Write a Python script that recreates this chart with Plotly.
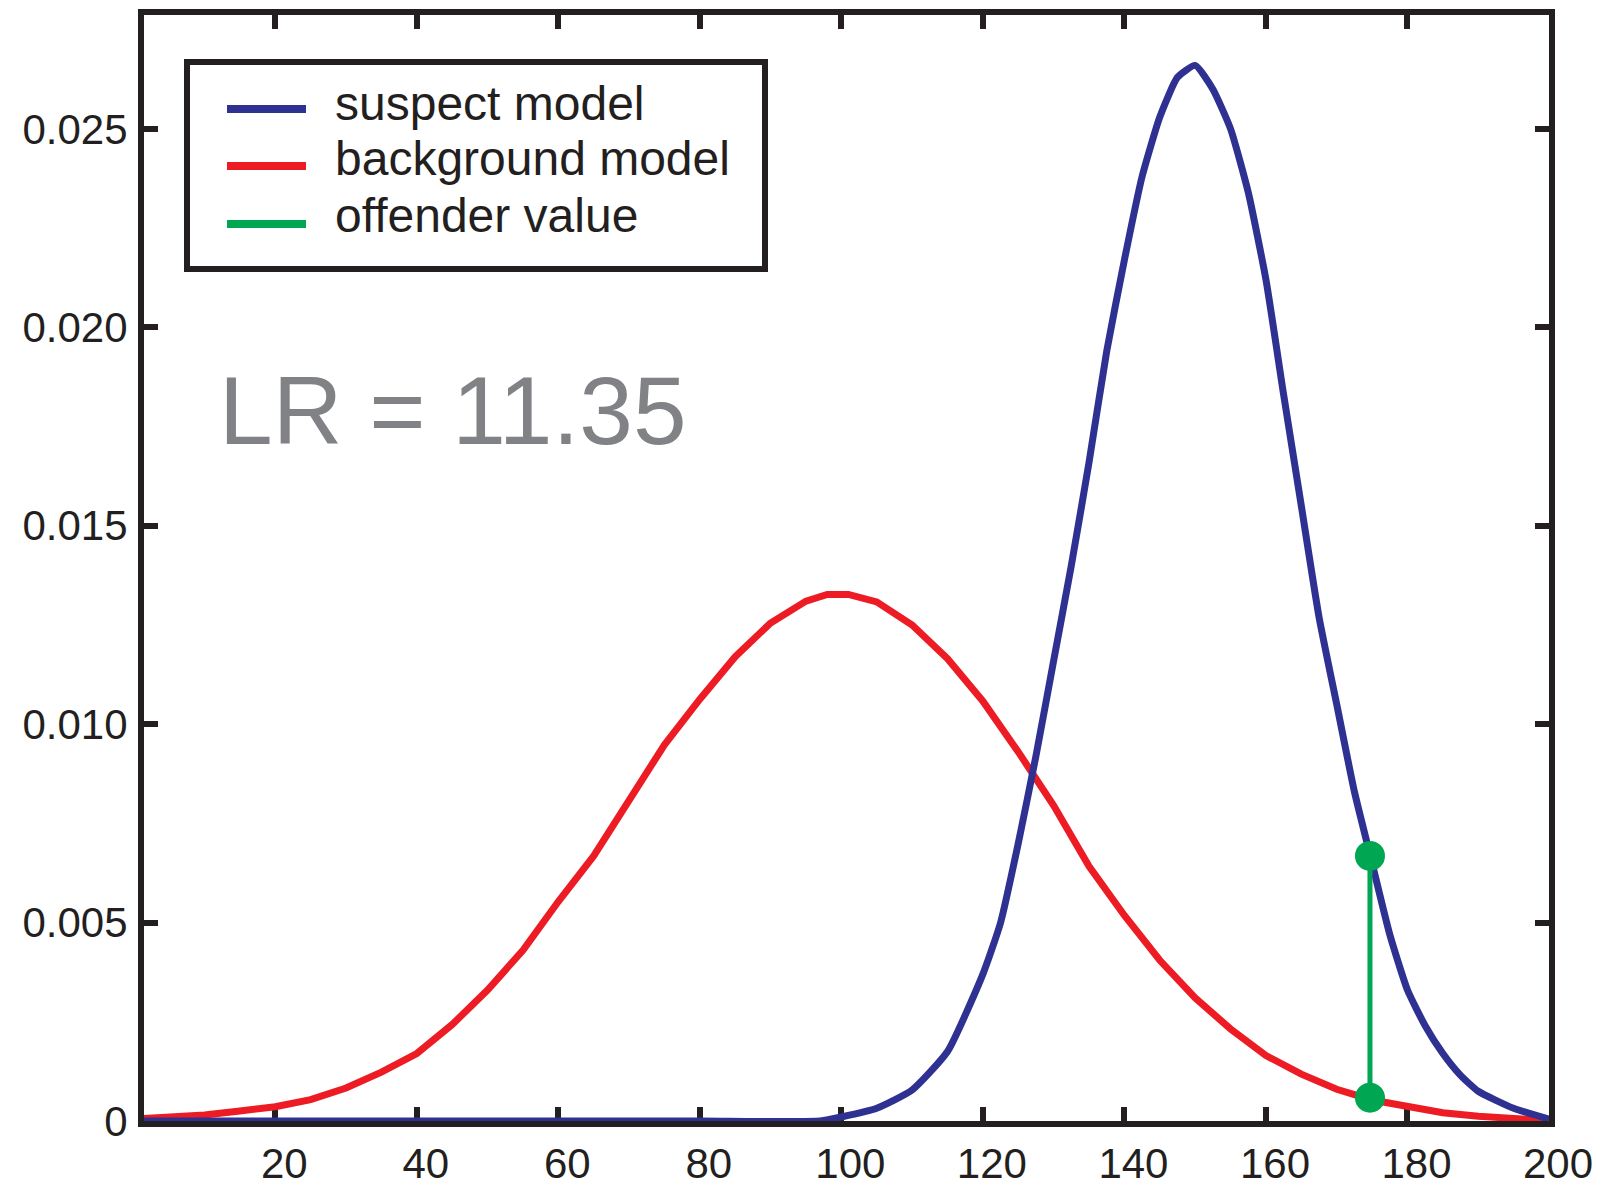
import plotly.graph_objects as go

# ---- data ----
bg_x = [1, 5, 10, 15, 20, 25, 30, 35, 40, 45, 50, 55, 60, 65, 70, 75, 80, 85, 90, 95,
        98, 101, 105, 110, 115, 120, 125, 130, 135, 140, 145, 150, 155, 160, 165, 170,
        175, 180, 185, 190, 195, 200]
bg_y = [0.00006, 0.00009, 0.00015, 0.00025, 0.00036, 0.00054, 0.00083, 0.00123, 0.00170,
        0.00243, 0.00330, 0.00430, 0.00553, 0.00668, 0.00812, 0.00948, 0.01063, 0.01170,
        0.01255, 0.01310, 0.01327, 0.01327, 0.01308, 0.01250, 0.01165, 0.01058, 0.00930,
        0.00795, 0.00642, 0.00518, 0.00405, 0.00310, 0.00232, 0.00165, 0.00118, 0.00080,
        0.00053, 0.00035, 0.00021, 0.00012, 0.00006, 0.00001]

sus_x = [1, 20, 40, 60, 80, 97, 100, 105, 110, 115, 120, 122.5, 125, 127.5, 130, 132.5,
         135, 137.5, 140, 142.5, 145, 147.5, 150, 152.5, 155, 157.5, 160, 162.5, 165,
         167.5, 170, 172.5, 175, 177.5, 180, 182.5, 185, 187.5, 190, 195, 200]
sus_y = [0.0, 0.0, 0.0, 0.0, 0.0, 0.0, 0.00010, 0.00032, 0.00078, 0.00175, 0.00370,
         0.00500, 0.00700, 0.00920, 0.01160, 0.01400, 0.01660, 0.01940, 0.02170, 0.02380,
         0.02530, 0.02630, 0.02660, 0.02600, 0.02500, 0.02340, 0.02120, 0.01830, 0.01550,
         0.01270, 0.01050, 0.00830, 0.00650, 0.00470, 0.00330, 0.00240, 0.00170, 0.00115,
         0.00075, 0.00032, 0.00005]

offender_x = [174.7, 174.7]
offender_y = [0.000589, 0.00668]

series_names = ["suspect model", "background model", "offender value"]
series_colors = ["#2E3192", "#ED1C24", "#00A651"]

x_tickvals = [20, 40, 60, 80, 100, 120, 140, 160, 180, 200]
y_tickvals = [0, 0.005, 0.010, 0.015, 0.020, 0.025]
y_ticktext = ["0", "0.005", "0.010", "0.015", "0.020", "0.025"]
lr_text = "LR = 11.35"

FONT = "Liberation Sans, Arial, Helvetica, sans-serif"

fig = go.Figure()
fig.add_trace(go.Scatter(x=bg_x, y=bg_y, mode="lines", name=series_names[1],
                         line=dict(color=series_colors[1], width=7), showlegend=False))
fig.add_trace(go.Scatter(x=sus_x, y=sus_y, mode="lines", name=series_names[0],
                         line=dict(color=series_colors[0], width=7, shape="spline", smoothing=0.5),
                         showlegend=False))
fig.add_trace(go.Scatter(x=offender_x, y=offender_y, mode="lines+markers", name=series_names[2],
                         line=dict(color=series_colors[2], width=5),
                         marker=dict(size=30, color=series_colors[2]), showlegend=False,
                         cliponaxis=False))

W, H = 1606, 1190
L, R, T, B = 144, 57, 15, 69
pw, ph = W - L - R, H - T - B


def px(xp):
    return (xp - L) / pw


def py(yp):
    return (H - B - yp) / ph


# manual legend box
shapes = [dict(type="rect", xref="paper", yref="paper",
               x0=px(187), x1=px(765), y0=py(62), y1=py(269),
               line=dict(color="#231F20", width=6), fillcolor="white", layer="above")]
annotations = []
rows = [109, 166, 224]
text_rows = [103, 159, 215]
for i in range(3):
    shapes.append(dict(type="line", xref="paper", yref="paper",
                       x0=px(227), x1=px(306), y0=py(rows[i]), y1=py(rows[i]),
                       line=dict(color=series_colors[i], width=8), layer="above"))
    annotations.append(dict(xref="paper", yref="paper", x=px(333), y=py(text_rows[i]),
                            xanchor="left", yanchor="middle", showarrow=False,
                            text=series_names[i],
                            font=dict(family=FONT, size=48, color="#231F20")))

annotations.append(dict(xref="paper", yref="paper", x=px(217), y=py(411),
                        xanchor="left", yanchor="middle", showarrow=False, text=lr_text,
                        font=dict(family=FONT, size=96.5, color="#808285")))

axis_common = dict(showline=True, linecolor="#231F20", linewidth=6, mirror="ticks",
                   ticks="inside", ticklen=14, tickwidth=6, tickcolor="#231F20",
                   showgrid=False, zeroline=False, layer="below traces", automargin=False,
                   tickfont=dict(family=FONT, size=42, color="#231F20"))

fig.update_layout(
    width=W, height=H,
    margin=dict(l=L, r=R, t=T, b=B, pad=0, autoexpand=False),
    paper_bgcolor="white", plot_bgcolor="white",
    shapes=shapes, annotations=annotations,
    xaxis=dict(range=[1.45, 200], tickmode="array", tickvals=x_tickvals,
               ticklabelstandoff=1, ticklabelshift=9, **axis_common),
    yaxis=dict(range=[0, 0.02787], tickmode="array", tickvals=y_tickvals,
               ticktext=y_ticktext, ticklabelstandoff=2, **axis_common),
)

fig.write_html("out.html")
